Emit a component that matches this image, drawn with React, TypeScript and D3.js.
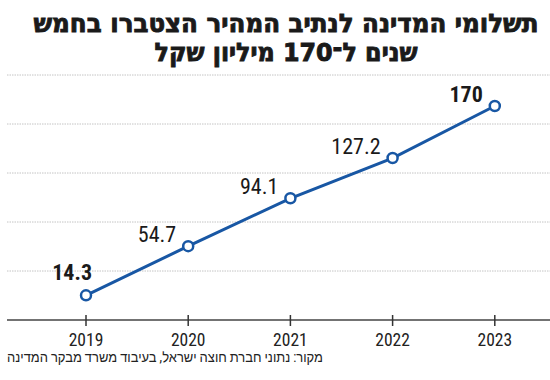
import React from "react";
import * as d3 from "d3";

const titleLines = ["תשלומי המדינה לנתיב המהיר הצטברו בחמש", "שנים ל־170 מיליון שקל"];
const sourceText = "מקור: נתוני חברת חוצה ישראל, בעיבוד משרד מבקר המדינה";
const years = ["2019", "2020", "2021", "2022", "2023"];
const values = [14.3, 54.7, 94.1, 127.2, 170];
const labels = ["14.3", "54.7", "94.1", "127.2", "170"];
const boldLabel = [true, false, false, false, true];

const W = 550, H = 380;
const BLUE = "#1857a4";
const NARROW = "'Liberation Sans Narrow', 'Roboto Condensed', 'Liberation Sans', sans-serif";

export default function App() {
  const plotTop = 75, plotBottom = 320, plotLeft = 7, plotRight = 550;
  const x = d3.scalePoint<string>().domain(years).range([86, 494.8]);
  const y = d3.scaleLinear().domain([0, 170]).range([312.7, 106]);
  const gridYs = d3.range(5).map((i) => plotTop + ((plotBottom - plotTop) / 5) * i);
  const pts: [number, number][] = years.map((yr, i) => [x(yr)!, y(values[i])]);
  const line = d3.line()(pts) || "";

  return (
    <svg width={W} height={H} style={{ position: "absolute", left: 0, top: 0, background: "#fff" }}>
      <text x={286} y={32} textAnchor="middle" fontFamily="'DejaVu Sans', sans-serif" fontWeight={900}
        fontSize={25} textLength={505} lengthAdjust="spacingAndGlyphs" fill="#1a1a1a" stroke="#1a1a1a" strokeWidth={0.9}
        direction="rtl">{titleLines[0]}</text>
      <text x={286} y={61} textAnchor="middle" fontFamily="'DejaVu Sans', sans-serif" fontWeight={900}
        fontSize={25} textLength={263} lengthAdjust="spacingAndGlyphs" fill="#1a1a1a" stroke="#1a1a1a" strokeWidth={0.9}
        direction="rtl">{titleLines[1]}</text>

      {gridYs.map((gy, i) => (
        <line key={i} x1={plotLeft} x2={plotRight} y1={gy} y2={gy} stroke="#c4c4c4" strokeWidth={1} strokeDasharray="1.5,1" />
      ))}
      <line x1={plotLeft} x2={plotRight} y1={plotBottom} y2={plotBottom} stroke="#444" strokeWidth={1.5} />
      {years.map((yr) => (
        <g key={yr}>
          <line x1={x(yr)} x2={x(yr)} y1={plotBottom - 5} y2={plotBottom + 6} stroke="#333" strokeWidth={1.5} />
          <text x={x(yr)} y={346} textAnchor="middle" fontFamily={NARROW} fontSize={17.5} fill="#222">{yr}</text>
        </g>
      ))}

      <path d={line} fill="none" stroke={BLUE} strokeWidth={3} />
      {pts.map(([px, py], i) => (
        <circle key={i} cx={px} cy={py} r={5} fill="#fff" stroke={BLUE} strokeWidth={2.5} />
      ))}
      {pts.map(([px, py], i) => (
        <text key={"l" + i} x={i === 0 ? px + 6 : px - 12} y={i === 0 ? py - 15 : py - 4}
          textAnchor="end" fontFamily={NARROW} fontSize={22} fontWeight={boldLabel[i] ? 700 : 400} fill="#1a1a1a">
          {labels[i]}
        </text>
      ))}

      <text x={7} y={362} textAnchor="end" direction="rtl" fontFamily={NARROW} fontSize={14}
        textLength={316} lengthAdjust="spacingAndGlyphs" fill="#222">{sourceText}</text>
    </svg>
  );
}
